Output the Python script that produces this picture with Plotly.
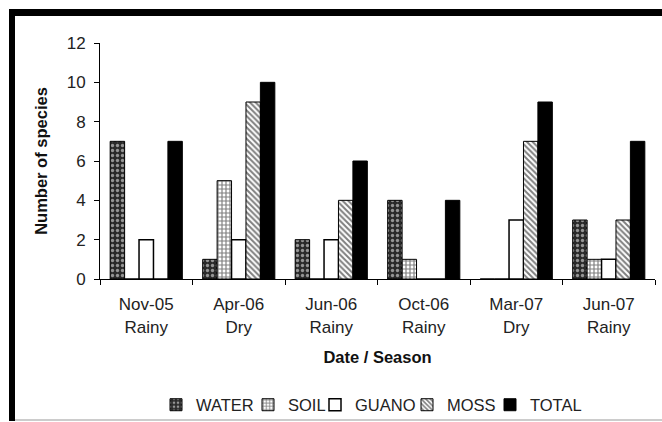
import plotly.graph_objects as go

categories = ["Nov-05<br>Rainy", "Apr-06<br>Dry", "Jun-06<br>Rainy", "Oct-06<br>Rainy", "Mar-07<br>Dry", "Jun-07<br>Rainy"]
water = [7, 1, 2, 4, 0, 3]
soil = [0, 5, 0, 1, 0, 1]
guano = [2, 2, 2, 0, 3, 1]
moss = [0, 9, 4, 0, 7, 3]
total = [7, 10, 6, 4, 9, 7]
y_ticks = [0, 2, 4, 6, 8, 10, 12]

FONT = "Liberation Sans, Arial, sans-serif"

# plot area geometry (px) used to place the frame shapes in paper coords
L, R, T, B = 100, 7, 43, 143
W, H = 662, 422
PW, PH = W - L - R, H - T - B


def px_x(px):
    return (px - L) / PW


def px_y(py):
    return (H - B - py) / PH


legend_left_px = [156, 248, 315, 407, 490]

fig = go.Figure()
fig.add_bar(name="WATER", x=categories, y=water, legend="legend",
            marker=dict(color="#2a2a2a", line=dict(color="black", width=1),
                        pattern=dict(shape=".", fgcolor="white", bgcolor="#2a2a2a", size=5, solidity=0.35)))
fig.add_bar(name="SOIL", x=categories, y=soil, legend="legend2",
            marker=dict(color="white", line=dict(color="black", width=1),
                        pattern=dict(shape="+", fgcolor="black", bgcolor="white", size=4, solidity=0.5)))
fig.add_bar(name="GUANO", x=categories, y=guano, legend="legend3",
            marker=dict(color="white", line=dict(color="black", width=1.5)))
fig.add_bar(name="MOSS", x=categories, y=moss, legend="legend4",
            marker=dict(color="white", line=dict(color="black", width=1),
                        pattern=dict(shape="\\", fgcolor="black", bgcolor="white", size=4, solidity=0.5)))
fig.add_bar(name="TOTAL", x=categories, y=total, legend="legend5",
            marker=dict(color="black", line=dict(color="black", width=1)))

legends = {}
for i, xl in enumerate(legend_left_px):
    key = "legend" if i == 0 else f"legend{i + 1}"
    legends[key] = dict(orientation="h", x=px_x(xl), xanchor="left", y=px_y(405), yanchor="middle",
                        font=dict(size=16.5, color="#222"), itemwidth=30,
                        bgcolor="rgba(0,0,0,0)")

fig.update_layout(
    width=W, height=H,
    margin=dict(l=L, r=R, t=T, b=B, autoexpand=False),
    paper_bgcolor="white", plot_bgcolor="white",
    barmode="group", bargap=0.22, bargroupgap=0,
    font=dict(family=FONT, size=17, color="#222"),
    showlegend=True,
    xaxis=dict(showline=True, linecolor="black", linewidth=1, ticks="outside", ticklen=5,
               tickcolor="black", tickson="boundaries", showgrid=False, automargin=False,
               tickfont=dict(size=17, color="#222"), ticklabelstandoff=10,
               title=dict(text="<b>Date / Season</b>", font=dict(size=16.5, color="#111"), standoff=15)),
    yaxis=dict(range=[0, 12], tickvals=y_ticks, showline=True, linecolor="black", linewidth=1,
               ticks="outside", ticklen=5, tickcolor="black", showgrid=False, zeroline=False,
               automargin=False,
               tickfont=dict(size=17, color="#222"), ticklabelstandoff=5,
               title=dict(text="<b>Number of species</b>", font=dict(size=16.5, color="#111"), standoff=14)),
    **legends,
)

# frame remnants: thick black bar along the top and left, thin grey line at the bottom
fig.add_shape(type="rect", xref="paper", yref="paper", x0=px_x(9), x1=px_x(662), y0=px_y(16), y1=px_y(9),
              fillcolor="black", line=dict(width=0), layer="above")
fig.add_shape(type="rect", xref="paper", yref="paper", x0=px_x(9), x1=px_x(15), y0=px_y(421), y1=px_y(9),
              fillcolor="black", line=dict(width=0), layer="above")
fig.add_shape(type="line", xref="paper", yref="paper", x0=px_x(15), x1=px_x(662), y0=px_y(420), y1=px_y(420),
              line=dict(color="#bbbbbb", width=1.5), layer="above")

fig.write_html("out.html", config={"displayModeBar": False},
               post_script="document.body.style.margin='0';")
